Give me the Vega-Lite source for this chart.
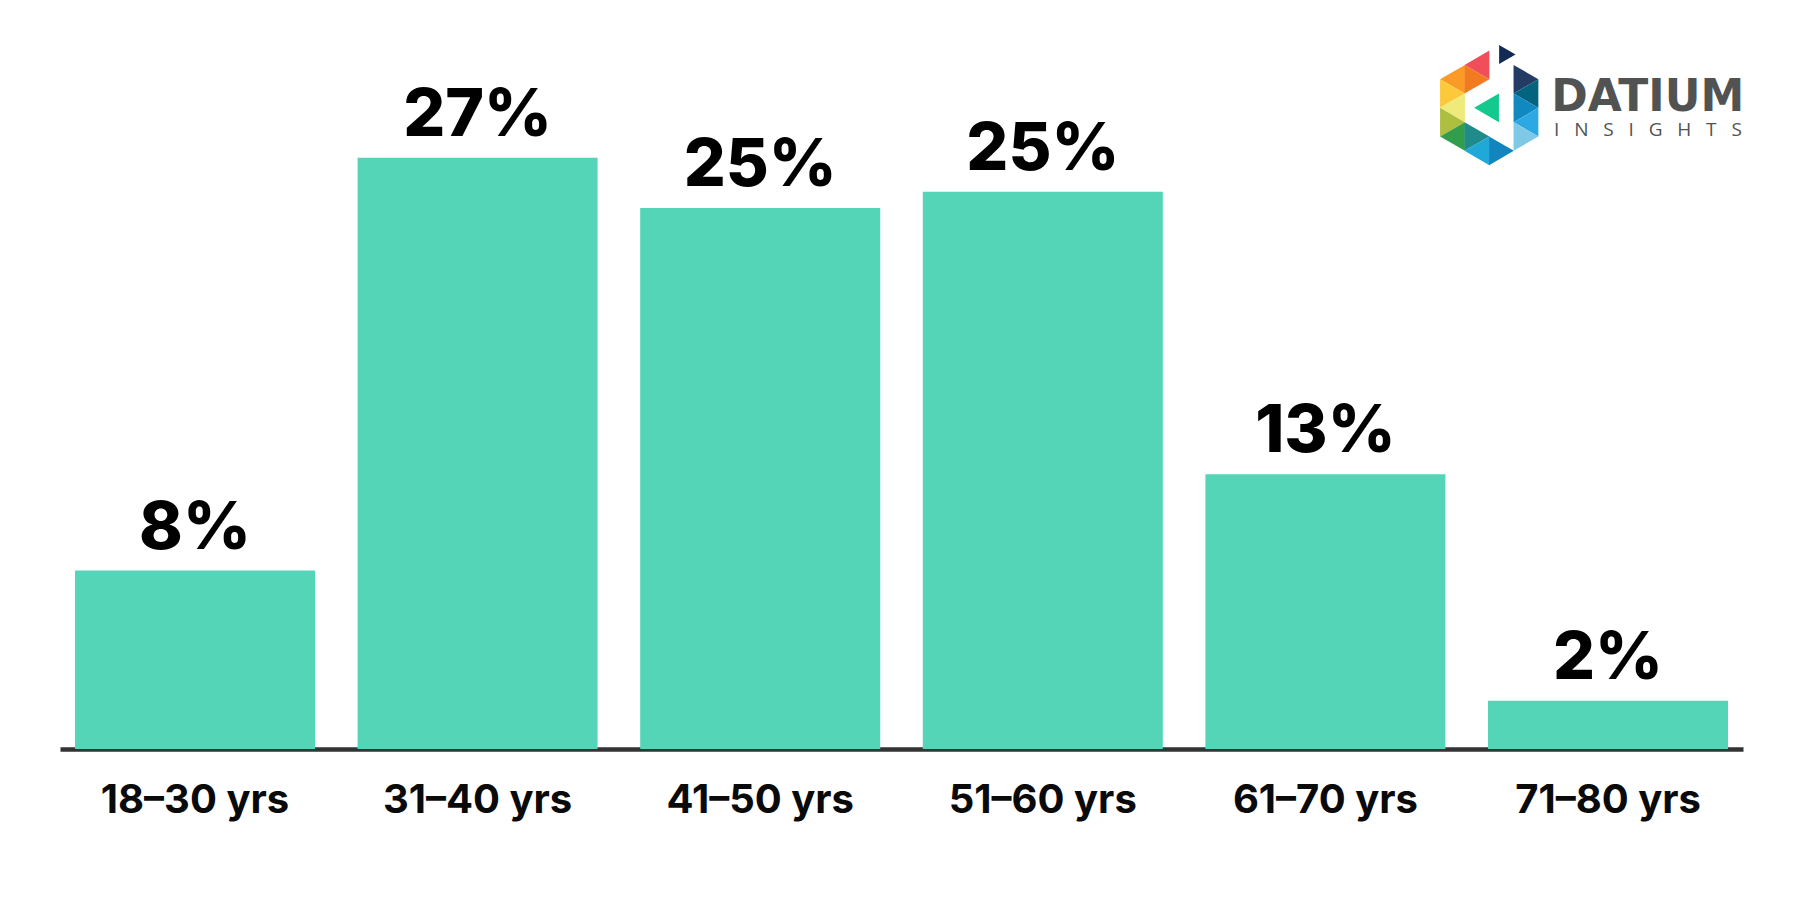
{"$schema":"https://vega.github.io/schema/vega-lite/v6.json","width":1683,"height":749,"autosize":"none","padding":{"left":60,"right":60,"top":0,"bottom":151},"background":"#ffffff","view":{"stroke":null},
"layer":[
{"data":{"name":"bars","values":[{"age":"18–30 yrs","share":8.15,"label":"8%"},{"age":"31–40 yrs","share":27,"label":"27%"},{"age":"41–50 yrs","share":24.7,"label":"25%"},{"age":"51–60 yrs","share":25.45,"label":"25%"},{"age":"61–70 yrs","share":12.55,"label":"13%"},{"age":"71–80 yrs","share":2.2,"label":"2%"}]},
"encoding":{"x":{"field":"age","type":"nominal","sort":null,"scale":{"paddingInner":0.1507,"paddingOuter":0.053},"axis":{"title":null,"domainColor":"#333333","domainWidth":4.5,"ticks":false,"labelAngle":0,"labelFont":"Inter","labelFontWeight":700,"labelFontSize":40,"labelLimit":400,"labelColor":"#0a0a0a","labelPadding":31,"grid":false}},"y":{"field":"share","type":"quantitative","scale":{"domain":[0,34.2]},"axis":null}},
"layer":[{"mark":{"type":"bar","color":"#54D5B8"}},{"mark":{"type":"text","font":"Inter","fontWeight":800,"fontSize":66,"baseline":"alphabetic","dy":-22,"color":"#000000"},"encoding":{"text":{"field":"label"}}}]},
{"data":{"name":"logo","values":[
{"u":0,"v":0,"dir":"triangle-left","part":"a"},
{"u":0,"v":1,"dir":"triangle-right","part":"b"},
{"u":0,"v":2,"dir":"triangle-left","part":"c"},
{"u":0,"v":3,"dir":"triangle-right","part":"d"},
{"u":0,"v":4,"dir":"triangle-left","part":"e"},
{"u":1,"v":-1,"dir":"triangle-left","part":"f"},
{"u":1,"v":0,"dir":"triangle-right","part":"g"},
{"u":1,"v":4,"dir":"triangle-right","part":"h"},
{"u":1,"v":5,"dir":"triangle-left","part":"i"},
{"u":2,"v":5,"dir":"triangle-right","part":"j"},
{"u":1.39,"v":2,"dir":"triangle-left","part":"k"},
{"u":3,"v":0,"dir":"triangle-right","part":"l"},
{"u":3,"v":1,"dir":"triangle-left","part":"m"},
{"u":3,"v":2,"dir":"triangle-right","part":"n"},
{"u":3,"v":3,"dir":"triangle-left","part":"o"},
{"u":3,"v":4,"dir":"triangle-right","part":"p"}]},
"mark":{"type":"point","filled":true,"opacity":1,"size":820},
"encoding":{"x":{"field":"u","type":"quantitative","scale":{"domain":[-56.84,11.86]},"axis":null},"y":{"field":"v","type":"quantitative","scale":{"domain":[46.76,-5.53],"nice":false,"zero":false},"axis":null},"shape":{"field":"dir","type":"nominal","scale":{"domain":["triangle-left","triangle-right"],"range":["triangle-left","triangle-right"]},"legend":null},"color":{"field":"part","type":"nominal","scale":{"domain":["a","b","c","d","e","f","g","h","i","j","k","l","m","n","o","p"],"range":["#F99B26","#FBC93A","#EFEB7A","#AEBF3F","#329E4D","#F04E59","#F27B22","#1F8B8B","#1FA8D8","#1285BF","#14C98E","#243B63","#04647F","#1189C0","#2CA9E3","#7FC9E6"]},"legend":null}}},
{"data":{"name":"logoTop","values":[{"u":2.24,"v":-1.73}]},
"mark":{"type":"point","filled":true,"opacity":1,"size":360,"shape":"triangle-right","color":"#122B55"},
"encoding":{"x":{"field":"u","type":"quantitative","scale":{"domain":[-56.84,11.86]},"axis":null},"y":{"field":"v","type":"quantitative","scale":{"domain":[46.76,-5.53],"nice":false,"zero":false},"axis":null}}},
{"data":{"name":"logoText","values":[{"u":4.03,"v":2.19,"word":"DATIUM"}]},
"mark":{"type":"text","font":"DejaVu Sans","fontWeight":700,"fontSize":44,"align":"left","baseline":"alphabetic","color":"#515353"},
"encoding":{"x":{"field":"u","type":"quantitative","scale":{"domain":[-56.84,11.86]},"axis":null},"y":{"field":"v","type":"quantitative","scale":{"domain":[46.76,-5.53],"nice":false,"zero":false},"axis":null},"text":{"field":"word"}}},
{"data":{"name":"logoText2","values":[{"u":4.15,"v":3.96,"word":"I\u00a0\u00a0\u00a0N\u00a0\u00a0\u00a0S\u00a0\u00a0\u00a0I\u00a0\u00a0\u00a0G\u00a0\u00a0\u00a0H\u00a0\u00a0\u00a0T\u00a0\u00a0\u00a0S"}]},
"mark":{"type":"text","font":"Open Sans","fontWeight":400,"fontSize":19,"align":"left","baseline":"alphabetic","color":"#515353"},
"encoding":{"x":{"field":"u","type":"quantitative","scale":{"domain":[-56.84,11.86]},"axis":null},"y":{"field":"v","type":"quantitative","scale":{"domain":[46.76,-5.53],"nice":false,"zero":false},"axis":null},"text":{"field":"word"}}}
],
"resolve":{"scale":{"x":"independent","y":"independent","color":"independent","shape":"independent"},"axis":{"x":"independent","y":"independent"}}}
